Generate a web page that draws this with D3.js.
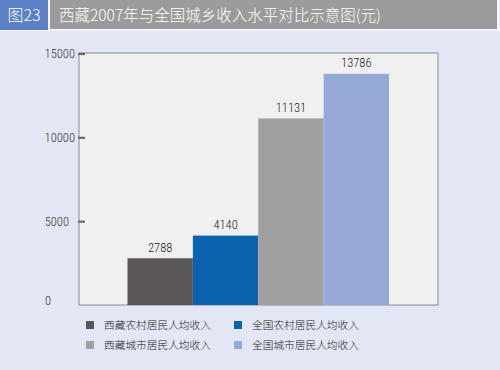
<!DOCTYPE html>
<html><head><meta charset="utf-8">
<script src="https://cdn.jsdelivr.net/npm/d3@7"></script>
<style>
html,body{margin:0;padding:0;background:#e3e6f4;}
svg{display:block;}
</style></head>
<body>
<svg id="chart" width="500" height="370"></svg>
<script>
const categories = ["西藏农村居民人均收入", "全国农村居民人均收入", "西藏城市居民人均收入", "全国城市居民人均收入"];
const values = [2788, 4140, 11131, 13786];
const colors = ["#5a5658", "#0b63b0", "#a0a0a0", "#95a9d6"];
const tickValues = [0, 5000, 10000, 15000];
const titleTag = "图23";
const titleText = "西藏2007年与全国城乡收入水平对比示意图(元)";

const svg = d3.select("#chart");
const cjk = "'Noto Sans CJK SC', 'Noto Sans', sans-serif";
const num = "'Roboto Condensed', 'Liberation Sans', Arial, sans-serif";

// background
svg.append("rect").attr("x",0).attr("y",0).attr("width",500).attr("height",370).attr("fill","#e3e6f4");
// title bar
svg.append("rect").attr("x",0).attr("y",0).attr("width",500).attr("height",31).attr("fill","#f4f5fb");
svg.append("rect").attr("x",0).attr("y",0).attr("width",48).attr("height",30).attr("fill","#5b80c3");
svg.append("rect").attr("x",50).attr("y",0).attr("width",447).attr("height",29).attr("fill","#9b9b9b");
svg.append("text").attr("x",24).attr("y",20.5).attr("text-anchor","middle")
  .attr("fill","#fff").style("font-family",cjk).style("font-weight","300").style("font-size","16px").text(titleTag);
svg.append("text").attr("x",59).attr("y",20.5)
  .attr("fill","#fff").style("font-family",cjk).style("font-weight","300").style("font-size","15.5px").text(titleText);

// plot area
const plot = {left:79, right:438, top:53, bottom:305};
svg.append("rect").attr("x",plot.left).attr("y",plot.top)
  .attr("width",plot.right-plot.left).attr("height",plot.bottom-plot.top)
  .attr("fill","#f0f0f0").attr("stroke","#8a8a8a").attr("stroke-width",1);

const x = d3.scaleBand().domain(categories).range([127.5, 389]).padding(0);
const y = d3.scaleLinear().domain([0, 15000]).range([305, 53.5]);

// bars
svg.append("g").selectAll("rect").data(values).join("rect")
  .attr("x",(d,i)=>x(categories[i]))
  .attr("y",d=>y(d))
  .attr("width",x.bandwidth())
  .attr("height",d=>y(0)-y(d))
  .attr("fill",(d,i)=>colors[i]);

// value labels
svg.append("g").selectAll("text").data(values).join("text")
  .attr("x",(d,i)=>x(categories[i])+x.bandwidth()/2)
  .attr("y",d=>y(d)-6.5)
  .attr("text-anchor","middle")
  .attr("fill","#222")
  .style("font-family",num).style("font-weight","300").style("font-size","12.5px")
  .text(d=>d);

// axis
const axis = d3.axisLeft(y).tickValues(tickValues).tickSize(0).tickPadding(4).tickFormat(d3.format("d"));
const ag = svg.append("g").attr("transform",`translate(${plot.left},0)`).call(axis);
ag.select(".domain").remove();
ag.selectAll("text").style("font-family",num).style("font-weight","300").style("font-size","12.5px").attr("fill","#333");
// label nudges for reference's irregular placement
const nudge = {0:[-24,-5], 5000:[-6,0], 10000:[0,0], 15000:[0,0]};
ag.selectAll(".tick text").attr("dx",d=>nudge[d][0]).attr("dy",d=>(0.35*12.5+nudge[d][1])+"px");
// tick marks (inward)
ag.selectAll(".tick").filter(d=>d>0).append("line")
  .attr("x1",-1).attr("x2",6).attr("y1",0).attr("y2",0)
  .attr("stroke","#6a6a6a").attr("stroke-width",2.2);

// legend
const leg = svg.append("g");
const lx = [86, 234], ly = [325, 345];
categories.forEach((c,i)=>{
  const col = i%2, row = Math.floor(i/2);
  const g = leg.append("g").attr("transform",`translate(${lx[col]},${ly[row]})`);
  g.append("rect").attr("x",0).attr("y",-4).attr("width",8).attr("height",8).attr("fill",colors[i]);
  g.append("text").attr("x",18).attr("y",4).attr("fill","#222")
    .style("font-family",cjk).style("font-weight","300").style("font-size","10.7px").text(c);
});
</script>
</body></html>
